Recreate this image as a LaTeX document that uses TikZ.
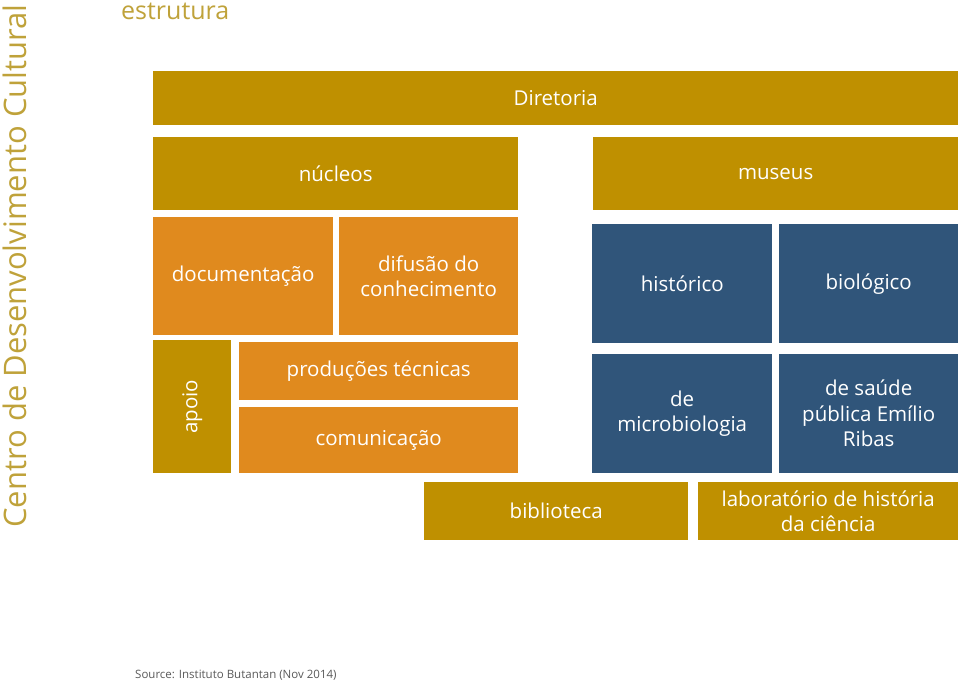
\documentclass[tikz,border=0pt]{standalone}
\usepackage{fontspec}
\setmainfont{Open Sans}
\usetikzlibrary{positioning}

\definecolor{gold}{HTML}{BF9000}
\definecolor{orng}{HTML}{E08A1E}
\definecolor{navy}{HTML}{30557A}
\definecolor{titlegold}{HTML}{BFA23A}
\definecolor{srcgray}{HTML}{595959}

\tikzset{
  tile/.style={rectangle, anchor=north west, inner sep=0pt, text=white,
    align=center, font=\fontsize{20.5}{25.5}\selectfont},
  goldtile/.style={tile, fill=gold},
  orngtile/.style={tile, fill=orng},
  navytile/.style={tile, fill=navy}
}

\begin{document}
\begin{tikzpicture}[x=1pt,y=-1pt]
  \useasboundingbox (0,0) rectangle (960,683);

  % titles
  \node[rotate=90, text=titlegold, font=\fontsize{31}{33}\selectfont] (titulo) at (15,266) {Centro de Desenvolvimento Cultural};
  \node[anchor=west, inner sep=0pt, text=titlegold, font=\fontsize{25}{27}\selectfont] (estr) at (121,11) {estrutura};

  % top level
  \node[goldtile, minimum width=805pt, minimum height=54pt]  (dir) at (153,71)  {Diretoria};
  \node[goldtile, minimum width=365pt, minimum height=73pt]  (nuc) at (153,137) {núcleos};
  \node[goldtile, minimum width=365pt, minimum height=73pt]  (mus) at (593,137) {museus};

  % nucleos
  \node[orngtile, minimum width=180pt, minimum height=118pt] (doc) at (153,217) {documentação};
  \node[orngtile, minimum width=179pt, minimum height=118pt] (dif) at (339,217) {difusão do\\conhecimento};
  \node[goldtile, minimum width=78pt,  minimum height=133pt] (apo) at (153,340) {};
  \node[rotate=90, text=white, font=\fontsize{20.5}{25.5}\selectfont] at (apo.center) {apoio};
  \node[orngtile, minimum width=279pt, minimum height=58pt]  (prod) at (239,342) {produções técnicas};
  \node[orngtile, minimum width=279pt, minimum height=66pt]  (com)  at (239,407) {comunicação};

  % museus
  \node[navytile, minimum width=180pt, minimum height=119pt] (hist) at (592,224) {histórico};
  \node[navytile, minimum width=179pt, minimum height=119pt] (bio)  at (779,224) {biológico};
  \node[navytile, minimum width=180pt, minimum height=119pt] (micro) at (592,354) {de\\microbiologia};
  \node[navytile, minimum width=179pt, minimum height=119pt] (ribas) at (779,354) {de saúde\\pública Emílio\\Ribas};

  % bottom row
  \node[goldtile, minimum width=264pt, minimum height=58pt]  (bib) at (424,482) {biblioteca};
  \node[goldtile, minimum width=260pt, minimum height=58pt]  (lab) at (698,482) {laboratório de história\\da ciência};

  % source
  \node[anchor=west, inner sep=0pt, text=srcgray, font=\fontsize{11.5}{13}\selectfont] (src) at (135,675) {Source: Instituto Butantan (Nov 2014)};
\end{tikzpicture}
\end{document}
